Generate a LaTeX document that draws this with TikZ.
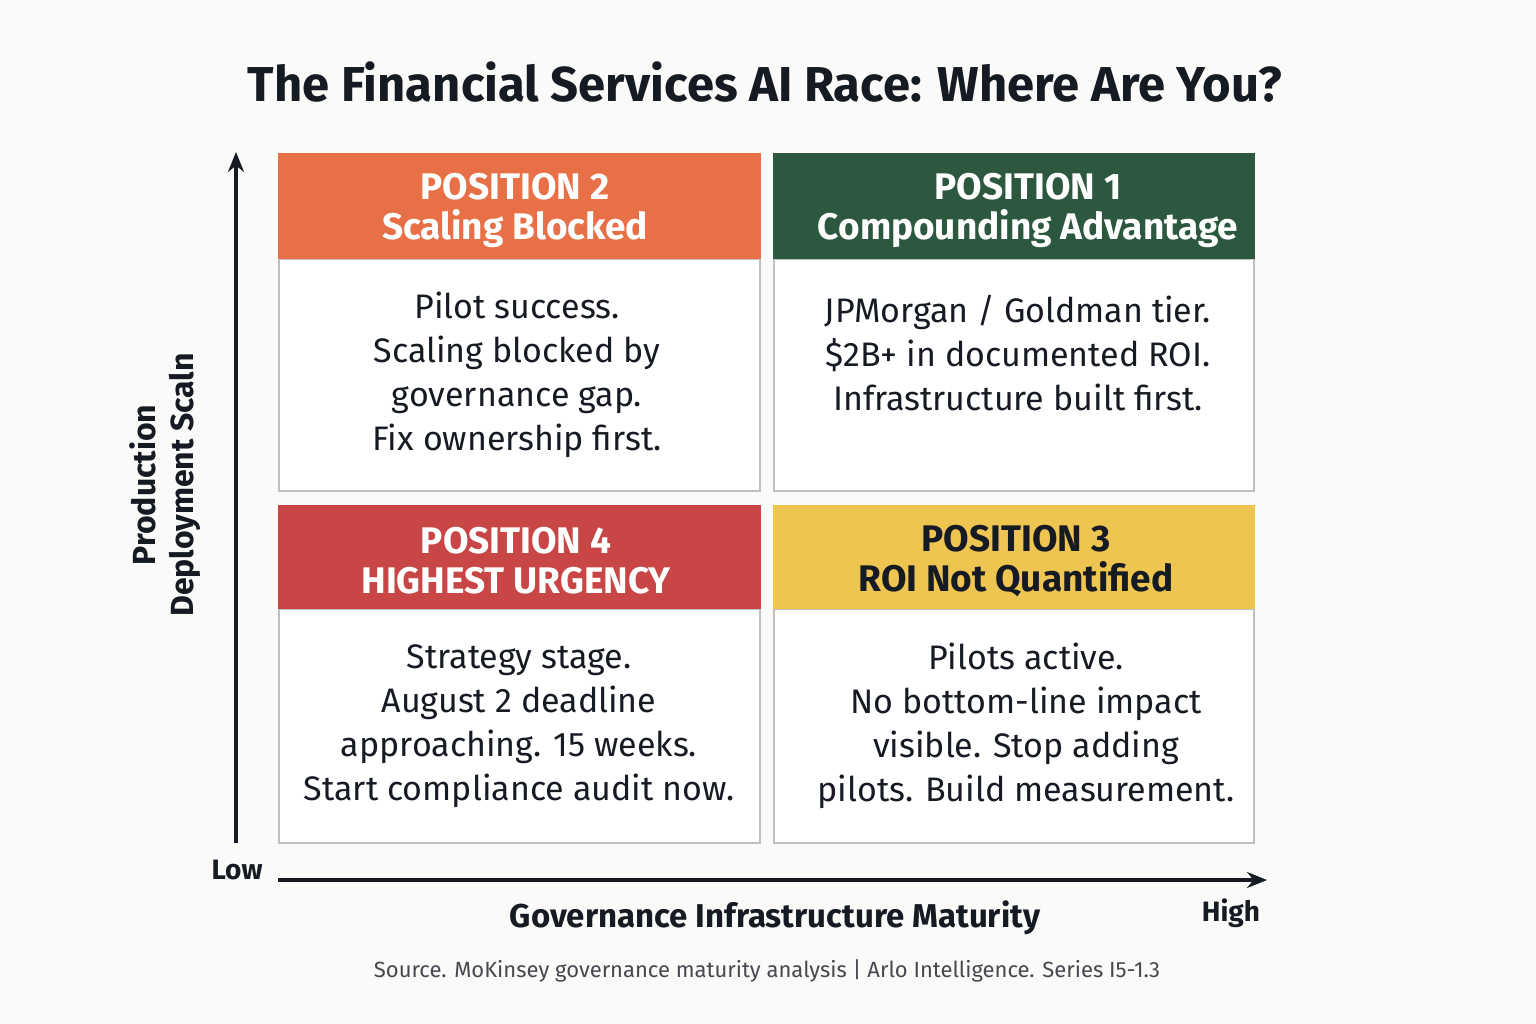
\documentclass[tikz,border=0pt]{standalone}
\usepackage{fontspec}
\setmainfont{Fira Sans}
\usetikzlibrary{arrows.meta}
\definecolor{bgc}{RGB}{250,250,248}
\definecolor{inkc}{RGB}{22,26,34}
\definecolor{orangec}{RGB}{232,112,70}
\definecolor{greenc}{RGB}{43,88,62}
\definecolor{redc}{RGB}{201,70,70}
\definecolor{yellowc}{RGB}{239,197,82}
\definecolor{edgec}{RGB}{190,192,196}
\tikzset{every picture/.style={line width=0.75pt},
  headbox/.style={draw=none,inner sep=0pt,font=\fontsize{37}{40}\selectfont\bfseries,align=center},
  bodybox/.style={draw=edgec,line width=2pt,fill=white},
  bodytext/.style={inner sep=0pt,font=\fontsize{34}{44}\selectfont,align=center,text=inkc}}

\begin{document}
\begin{tikzpicture}[x=1pt,y=1pt,yscale=-1,xscale=1]
\fill[bgc] (0,0) rectangle (1536,1024);
\useasboundingbox (0,0) rectangle (1536,1024);

% Title
\node (title) at (765,82) [inner sep=0pt,text=inkc,font=\fontsize{49}{52}\selectfont\bfseries] {The Financial Services AI Race: Where Are You?};

%Position 2
\draw[bodybox] (279,259) rectangle (760,491);
\fill[orangec] (278,153) rectangle (761,259);
\node (h2) at (515,210) [headbox,text=white] {POSITION 2\\Scaling Blocked};
\node (b2) at (517,375) [bodytext] {Pilot success.\\Scaling blocked by\\governance gap.\\Fix ownership first.};
%Position 1
\draw[bodybox] (774,259) rectangle (1254,491);
\fill[greenc] (773,153) rectangle (1255,259);
\node (h1) at (1028,210) [headbox,text=white] {POSITION 1\\Compounding Advantage};
\node (b1) at (1018,353) [bodytext] {JPMorgan / Goldman tier.\\\$2B+ in documented ROI.\\Infrastructure built first.};
%Position 4
\draw[bodybox] (279,609) rectangle (760,843);
\fill[redc] (278,505) rectangle (761,609);
\node (h4) at (516,561) [headbox,text=white] {POSITION 4\\HIGHEST URGENCY};
\node (b4) at (519,726) [bodytext] {Strategy stage.\\August 2 deadline\\approaching. 15 weeks.\\Start compliance audit now.};
%Position 3
\draw[bodybox] (774,609) rectangle (1254,843);
\fill[yellowc] (773,505) rectangle (1255,609);
\node (h3) at (1016,561) [headbox,text=inkc] {POSITION 3\\ROI Not Quantified};
\node (b3) at (1026,726) [bodytext] {Pilots active.\\No bottom-line impact\\visible. Stop adding\\pilots. Build measurement.};

% Axes
\coordinate (ylo) at (236,843);
\coordinate (yhi) at (236,152);
\coordinate (xlo) at (278,880);
\coordinate (xhi) at (1267,880);
\draw[inkc,line width=4pt,-{Stealth[length=20pt,width=16pt]}] (ylo) -- (yhi);
\draw[inkc,line width=4pt,-{Stealth[length=20pt,width=16pt]}] (xlo) -- (xhi);

% Text Node
\node (low) at (237,870) [inner sep=0pt,text=inkc,font=\fontsize{28}{32}\selectfont\bfseries] {Low};
\node (high) at (1231,913) [inner sep=0pt,text=inkc,font=\fontsize{28}{32}\selectfont\bfseries] {High};
\node (xlab) at (775,918) [inner sep=0pt,text=inkc,font=\fontsize{33}{36}\selectfont\bfseries] {Governance Infrastructure Maturity};
\node (ylab) at (165,485) [rotate=90,inner sep=0pt,align=center,text=inkc,font=\fontsize{32}{38}\selectfont\bfseries] {Production\\Deployment Scaln};
\node (src) at (767,971) [inner sep=0pt,text=inkc!80,font=\fontsize{22}{24}\selectfont] {Source. MoKinsey governance maturity analysis | Arlo Intelligence. Series I5-1.3};
\end{tikzpicture}
\end{document}
